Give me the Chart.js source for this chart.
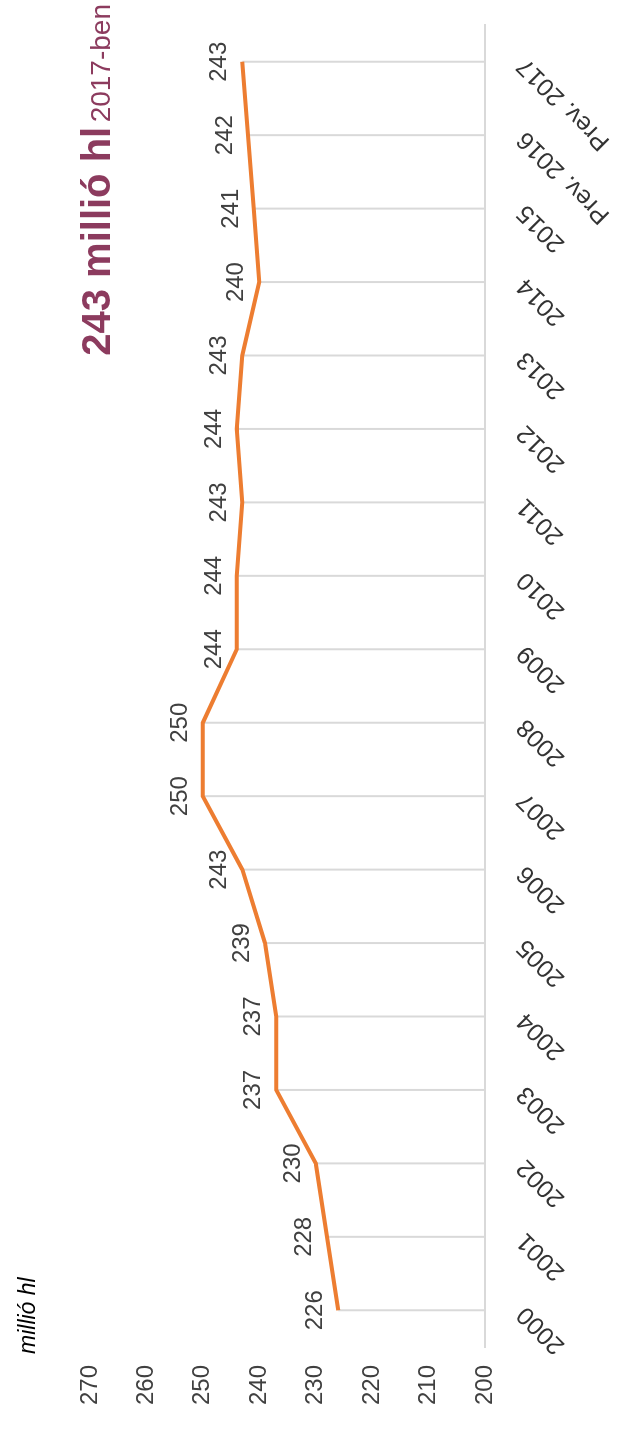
<!DOCTYPE html>
<html>
<head>
<meta charset="utf-8">
<script src="https://cdn.jsdelivr.net/npm/chart.js@4.4.1/dist/chart.umd.min.js"></script>
<style>
  html, body { margin: 0; padding: 0; background: #fff; }
  body { width: 617px; height: 1434px; overflow: hidden; position: relative; }
  /* the chart is drawn landscape and then turned a quarter left */
  #wrap { position: absolute; left: 0; top: 0; width: 1434px; height: 617px;
          transform-origin: 0 0; transform: translate(0, 1434px) rotate(-90deg); }
  #chart { position: absolute; left: 0; top: 0; }
  #unit { position: absolute; left: 80px; top: 14px; line-height: 1;
          font: italic 23px "Liberation Sans", sans-serif; color: #000; }
  #title { position: absolute; right: 4px; top: 76px; line-height: 1; white-space: nowrap;
           color: #8c3b5e; font-family: "Liberation Sans", sans-serif; }
  #title .big { font-weight: bold; font-size: 40px; }
  #title .small { font-size: 28px; }
</style>
</head>
<body>
<div id="wrap">
  <canvas id="chart" width="1434" height="617"></canvas>
  <div id="unit"></div>
  <div id="title"><span class="big"></span> <span class="small"></span></div>
</div>
<script>
const years = ['2000', '2001', '2002', '2003', '2004', '2005', '2006', '2007', '2008',
               '2009', '2010', '2011', '2012', '2013', '2014', '2015', 'Prev. 2016', 'Prev. 2017'];
const production = [226, 228, 230, 237, 237, 239, 243, 250, 250,
                    244, 244, 243, 244, 243, 240, 241, 242, 243];
const yMin = 200;
const yMax = 270;
const yStep = 10;
const unitText = 'millió hl';
const titleMain = '243 millió hl';
const titleSub = '2017-ben';

document.getElementById('unit').textContent = unitText;
document.querySelector('#title .big').textContent = titleMain;
document.querySelector('#title .small').textContent = titleSub;

const textColor = '#404040';
const fontFamily = '"Liberation Sans", sans-serif';

// thin grey lines from every point down to the axis
const dropLines = {
    id: 'dropLines',
    beforeDatasetsDraw(chart) {
        const ctx = chart.ctx;
        const bottom = chart.chartArea.bottom;
        ctx.save();
        ctx.strokeStyle = '#d9d9d9';
        ctx.lineWidth = 2;
        for (const pt of chart.getDatasetMeta(0).data) {
            ctx.beginPath();
            ctx.moveTo(pt.x, pt.y);
            ctx.lineTo(pt.x, bottom);
            ctx.stroke();
        }
        ctx.restore();
    }
};

// value written above each point
const valueLabels = {
    id: 'valueLabels',
    afterDatasetsDraw(chart) {
        const ctx = chart.ctx;
        const data = chart.data.datasets[0].data;
        ctx.save();
        ctx.fillStyle = textColor;
        ctx.font = '24px ' + fontFamily;
        ctx.textAlign = 'center';
        ctx.textBaseline = 'alphabetic';
        chart.getDatasetMeta(0).data.forEach((pt, i) => {
            ctx.fillText(String(data[i]), pt.x, pt.y - 16);
        });
        ctx.restore();
    }
};

new Chart(document.getElementById('chart'), {
    type: 'line',
    data: {
        labels: years,
        datasets: [{
            data: production,
            borderColor: '#ed7d31',
            borderWidth: 4,
            pointRadius: 0,
            tension: 0,
            fill: false
        }]
    },
    options: {
        responsive: false,
        animation: false,
        devicePixelRatio: 1,
        layout: { padding: { top: 90, right: 25, left: 0, bottom: 0 } },
        plugins: {
            legend: { display: false },
            tooltip: { enabled: false }
        },
        scales: {
            x: {
                offset: true,
                grid: { display: false, drawTicks: false },
                border: { display: true, color: '#d9d9d9', width: 2 },
                ticks: {
                    color: '#333',
                    font: { family: fontFamily, size: 25 },
                    minRotation: 45,
                    maxRotation: 45,
                    padding: 26
                },
                afterFit(scale) { scale.height = 132; }
            },
            y: {
                min: yMin,
                max: yMax,
                grid: { display: false, drawTicks: false },
                border: { display: false },
                ticks: {
                    stepSize: yStep,
                    color: textColor,
                    font: { family: fontFamily, size: 24 },
                    padding: 18
                },
                afterFit(scale) { scale.width = 87; }
            }
        }
    },
    plugins: [dropLines, valueLabels]
});
</script>
</body>
</html>
